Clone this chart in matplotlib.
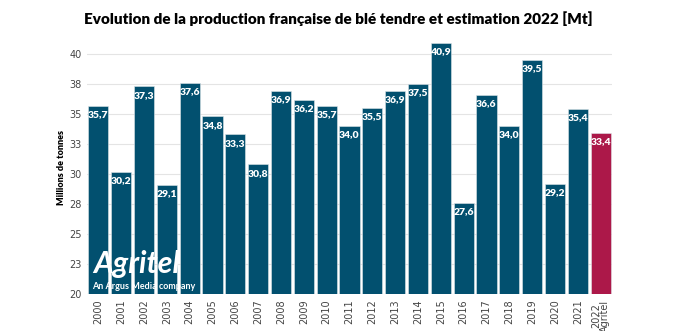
import numpy as np
import matplotlib.pyplot as plt

years = ['2000', '2001', '2002', '2003', '2004', '2005', '2006', '2007', '2008',
         '2009', '2010', '2011', '2012', '2013', '2014', '2015', '2016', '2017',
         '2018', '2019', '2020', '2021', '2022\nAgritel']
production = [35.7, 30.2, 37.3, 29.1, 37.6, 34.8, 33.3, 30.8, 36.9, 36.2, 35.7,
              34.0, 35.5, 36.9, 37.5, 40.9, 27.6, 36.6, 34.0, 39.5, 29.2, 35.4, 33.4]
ytick_vals = [20, 22.5, 25, 27.5, 30, 32.5, 35, 37.5, 40]
ytick_labels = ['20', '23', '25', '28', '30', '33', '35', '38', '40']

blue = '#02506f'
red = '#ac1849'
colors = [blue] * (len(years) - 1) + [red]

fig = plt.figure(figsize=(6.9, 3.31), dpi=100)
ax = fig.add_axes([0.126, 0.112, 0.761, 0.761])

x = np.arange(len(years))
ax.bar(x, production, width=0.88, color=colors, edgecolor='#dfe6ea',
       linewidth=0.4, zorder=2)
for i, v in enumerate(production):
    ax.text(i, v - 0.35, f'{v:.1f}'.replace('.', ','), ha='center', va='top',
            color='white', fontsize=7.5, fontweight='heavy', family='Lato', zorder=3)

ax.set_xlim(-0.5, len(years) - 0.5)
ax.set_ylim(20, 41)
ax.set_yticks(ytick_vals)
ax.set_yticklabels(ytick_labels, fontsize=7, color='#444444')
ax.set_xticks(x)
ax.set_xticklabels(years, rotation=90, fontsize=7, color='#444444',
                   linespacing=0.85)
ax.tick_params(length=0, pad=4)
ax.grid(axis='y', color='#e4e4e4', linewidth=0.8, zorder=0)
for s in ax.spines.values():
    s.set_visible(False)
ax.axhline(20, color='#cccccc', linewidth=0.8, zorder=1)

ax.set_ylabel('Millions de tonnes', fontsize=6.5, fontweight='heavy',
              family='Lato', labelpad=2)

fig.text(0.49, 0.945, 'Evolution de la production française de blé tendre et estimation 2022 [Mt]',
         ha='center', va='center', fontsize=11, fontweight='heavy', family='Lato')

# logo overlay
fig.text(0.135, 0.175, 'Agritel', color='white', fontsize=22, fontweight='bold',
         style='italic', family='Lato', zorder=5)
fig.text(0.133, 0.128, 'An Argus Media company', color='white', fontsize=6.5,
         fontweight='bold', family='Lato', zorder=5)

fig.savefig('out.png', dpi=100)
